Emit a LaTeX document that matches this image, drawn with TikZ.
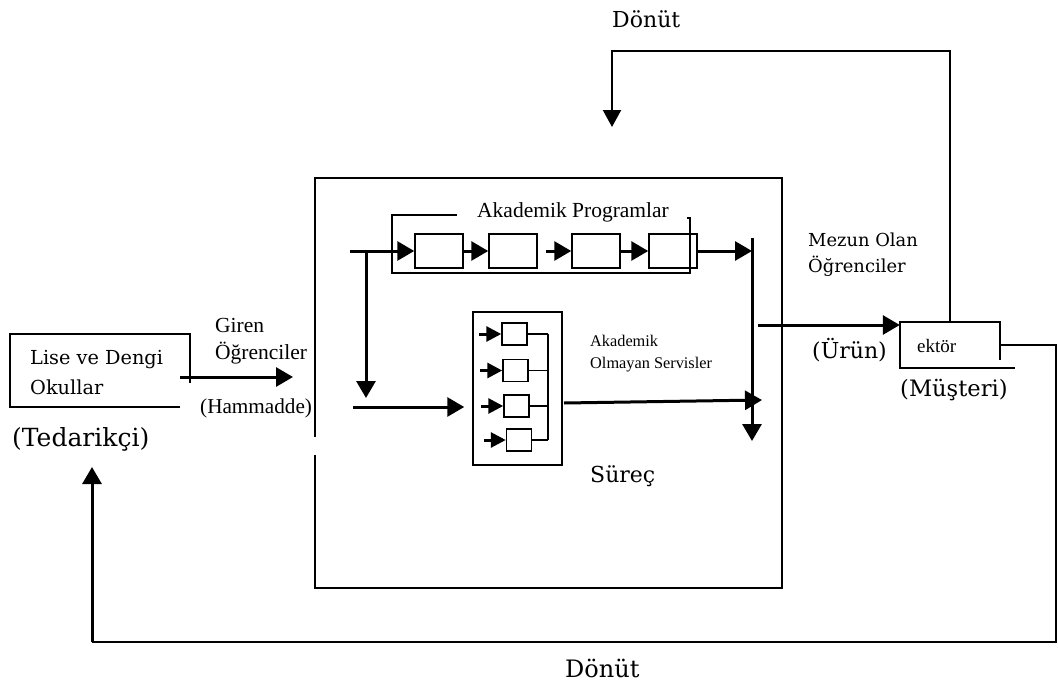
\documentclass[tikz,border=0pt]{standalone}
\usepackage{fontspec}
\setmainfont{Liberation Serif}
\newfontfamily\cambria{DejaVu Serif}
\usetikzlibrary{arrows.meta,calc}

\begin{document}
\begin{tikzpicture}[x=1pt,y=-1pt,
                    line/.style={line width=1.5pt},
                    flow/.style={line width=3pt,-{Triangle[length=17pt,width=19pt]}},
                    smallflow/.style={line width=3pt,-{Triangle[length=15pt,width=15pt]}},
                    backflow/.style={line width=2.2pt,-{Triangle[length=17pt,width=18pt]}},
                    box/.style={draw,line width=1.5pt,inner sep=0pt},
                    prog/.style={box,minimum width=48pt,minimum height=34pt},
                    small/.style={box,minimum width=25pt,minimum height=22pt},
                    frame/.style={inner sep=0pt},
                    tlabel/.style={anchor=west,inner sep=0pt,align=left}]
 \useasboundingbox (0,0) rectangle (1058,691);
 % supplier
 \node[frame,minimum width=180pt,minimum height=73pt] (tedarik) at (100,370.5) {};
 \draw[line] ([xshift=-10pt]tedarik.south east) -- (tedarik.south west) -- (tedarik.north west)
   -- (tedarik.north east) -- ++(0,49);
 \node[tlabel,font=\cambria\fontsize{19.3}{30}\selectfont] (lise) at (30,373) {Lise ve Dengi\\Okullar};
 \node[tlabel,font=\cambria\fontsize{25}{28}\selectfont] (tedarikci) at (12,439) {(Tedarikçi)};
 \node[tlabel,font=\fontsize{21.5}{27}\selectfont] (giren) at (215,341) {Giren\\Öğrenciler};
 \node[tlabel,font=\fontsize{21.2}{24}\selectfont] (hammadde) at (200,408) {(Hammadde)};
 \coordinate (girisbas) at (180,377);
 \coordinate (giris) at (293,377);
 \draw[flow] (girisbas) -- (giris);
 % process
 \node[frame,minimum width=467pt,minimum height=410pt] (surec) at (548.5,383) {};
 \draw[line] (surec.north west |- 0,437) -- (surec.north west) -- (surec.north east)
   -- (surec.south east) -- (surec.south west) -- ++(0,-133);
 \node[tlabel,font=\cambria\fontsize{22}{26}\selectfont] (sureclabel) at (590,476) {Süreç};
 % academic programmes
 \node[frame,minimum width=298pt,minimum height=58pt] (programlar) at (541,244) {};
 \draw[line] ([xshift=65pt]programlar.north west) -- (programlar.north west) -- (programlar.south west)
   -- (programlar.south east) -- ([yshift=-3pt]programlar.north east) -- ++(-3,0);
 \node[tlabel,font=\fontsize{21.5}{24}\selectfont] (prlabel) at (477,212) {Akademik Programlar};
 \foreach \x [count=\i] in {439,513,596,673}
   \node[prog] (p\i) at (\x,251) {};
 \coordinate (gir) at (350,251);
 \coordinate (dal) at (366,251);
 \coordinate (cikis) at (752,251);
 \draw[flow] (gir) -- (p1.west);
 \draw[flow] (p1.east) -- (p2.west);
 \draw[flow] ([xshift=8pt]p2.east) -- (p3.west);
 \draw[flow] (p3.east) -- (p4.west);
 \draw[flow] (p4.east) -- (cikis);
 \coordinate (topla) at (752,238);
 \coordinate (toplason) at (752,441);
 \draw[flow] (topla) -- (toplason);
 \coordinate (dalson) at (366,398);
 \draw[flow] (dal) -- (dalson);
 % non-academic services
 \node[box,minimum width=89pt,minimum height=153pt] (servis) at (517.5,388.5) {};
 \coordinate (servisgir) at (353,407);
 \draw[flow,shorten >=8pt] (servisgir) -- (servisgir -| servis.west);
 \coordinate (bus) at (548,334);
 \foreach \x/\y [count=\i] in {514.5/334,515.5/370.5,516.5/406,519/440} {
   \node[small] (s\i) at (\x,\y) {};
   \draw[smallflow] (s\i.west) ++(-22,0) -- (s\i.west);
   \draw[line] (s\i.east) -- (s\i.east -| bus);
 }
 \draw[line] (bus) -- (bus |- s4.east);
 \node[tlabel,font=\fontsize{16.3}{22}\selectfont] (servislabel) at (590,354) {Akademik\\Olmayan Servisler};
 \coordinate (servisout) at (564,403);
 \coordinate (servisson) at (762,400);
 \draw[flow] (servisout) -- (servisson);
 % customer
 \node[tlabel,font=\cambria\fontsize{17.9}{26}\selectfont] (mezun) at (808,255) {Mezun Olan\\Öğrenciler};
 \node[frame,minimum width=100pt,minimum height=46pt] (musteri) at (950,345) {};
 \draw[line] ([yshift=-38pt]musteri.north east) -- (musteri.north east) -- (musteri.north west)
   -- (musteri.south west) -- ++(115,0);
 \node[tlabel,font=\fontsize{19}{22}\selectfont] (sektor) at (917,346) {ektör};
 \node[tlabel,font=\cambria\fontsize{22}{26}\selectfont] (urun) at (812,350) {(Ürün)};
 \node[tlabel,font=\cambria\fontsize{22.6}{26}\selectfont] (musterilabel) at (900,390) {(Müşteri)};
 \coordinate (urunbas) at (758,325);
 \draw[flow] (urunbas) -- (urunbas -| musteri.west);
 % feedback
 \coordinate (donutok) at (612,127);
 \draw[backflow] (musteri.north) -- ++(0,-271) -| (donutok);
 \node[tlabel,font=\cambria\fontsize{22}{26}\selectfont] (donutust) at (612,19) {Dönüt};
 \coordinate (kose) at (1056,642);
 \coordinate (tedarikok) at (92,467);
 \draw[line] (musteri.east) -| (kose) -- (kose -| tedarikok);
 \draw[flow] (kose -| tedarikok) -- (tedarikok);
 \node[tlabel,font=\cambria\fontsize{24}{28}\selectfont] (donutalt) at (565,668) {Dönüt};
\end{tikzpicture}
\end{document}
